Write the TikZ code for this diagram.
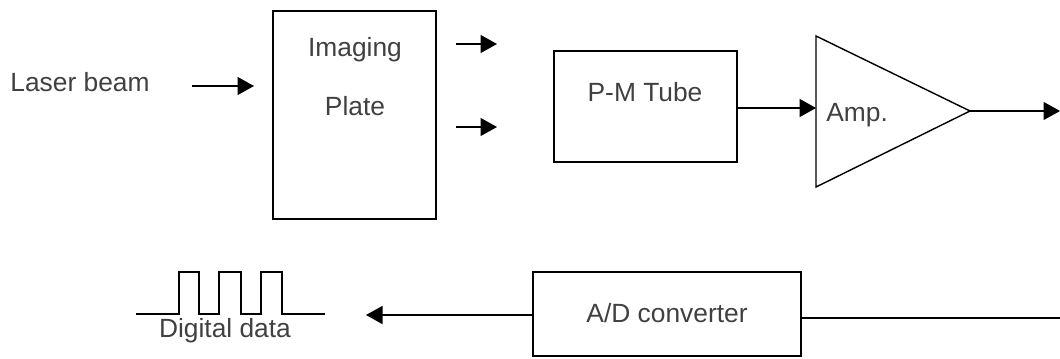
\documentclass[tikz,border=0pt]{standalone}
\usepackage{fontspec}
\setmainfont{Liberation Sans}
\usepackage{tikz}
\usetikzlibrary{arrows.meta}

\tikzset{
    blockbox/.style={draw, line width=0.8pt, inner sep=0pt},
    lbl/.style={text=black!75, font=\fontsize{15}{18}\selectfont, inner sep=0pt},
    wire/.style={line width=0.8pt},
    sig/.style={line width=0.8pt, -{Triangle[length=0.33cm,width=0.36cm]}}
}

\begin{document}
\begin{tikzpicture}[x=0.02cm, y=-0.02cm]
    \useasboundingbox (0,0) rectangle (1060,358);

    % laser -> imaging plate
    \node [lbl] (laser) at (80,82) {Laser beam};
    \coordinate (laserin) at (192,86);
    \coordinate (laserout) at (254,86);
    \draw [sig] (laserin) -- (laserout);

    % imaging plate
    \node [blockbox, minimum width=3.26cm, minimum height=4.16cm] (plate) at (354.5,115) {};
    \node [lbl] (platea) at (355,50) {Imaging};
    \node [lbl] (plateb) at (355,106) {Plate};

    % plate outputs
    \coordinate (outa) at (456,44);
    \coordinate (outai) at (497,44);
    \coordinate (outb) at (456,127);
    \coordinate (outbi) at (497,127);
    \draw [sig] (outa) -- (outai);
    \draw [sig] (outb) -- (outbi);

    % P-M tube
    \node [blockbox, minimum width=3.66cm, minimum height=2.22cm] (pmt) at (645.5,106.5) {};
    \node [lbl] (pmtlbl) at (645,92) {P-M Tube};

    % amplifier
    \coordinate (amptop) at (816,36);
    \coordinate (ampbot) at (816,187);
    \coordinate (ampout) at (970,111);
    \coordinate (ampin) at (816,108);
    \draw [wire, line join=miter] (amptop) -- (ampout) -- (ampbot) -- cycle;
    \node [lbl, anchor=west] (amplbl) at (826,115) {Amp.};
    \draw [sig] (pmt.east |- ampin) -- (ampin);

    % amp -> output
    \coordinate (ampend) at (1060,111);
    \draw [sig] (ampout) -- (ampend);

    % A/D converter
    \node [blockbox, minimum width=5.36cm, minimum height=1.68cm] (adc) at (667,314) {};
    \node [lbl] (adclbl) at (667,313) {A/D converter};
    \coordinate (adcin) at (1060,318);
    \draw [wire] (adcin) -- (adc.east |- adcin);

    % A/D -> digital data
    \coordinate (dataend) at (366,315);
    \draw [sig] (adc.west |- dataend) -- (dataend);

    % pulse train
    \draw [wire] (136,314) -- (179,314) -- (179,272) -- (199,272) -- (199,314)
        -- (219,314) -- (219,272) -- (241,272) -- (241,314)
        -- (261,314) -- (261,272) -- (282,272) -- (282,314) -- (325,314);
    \node [lbl] (data) at (225,331) {Digital data};
\end{tikzpicture}
\end{document}
